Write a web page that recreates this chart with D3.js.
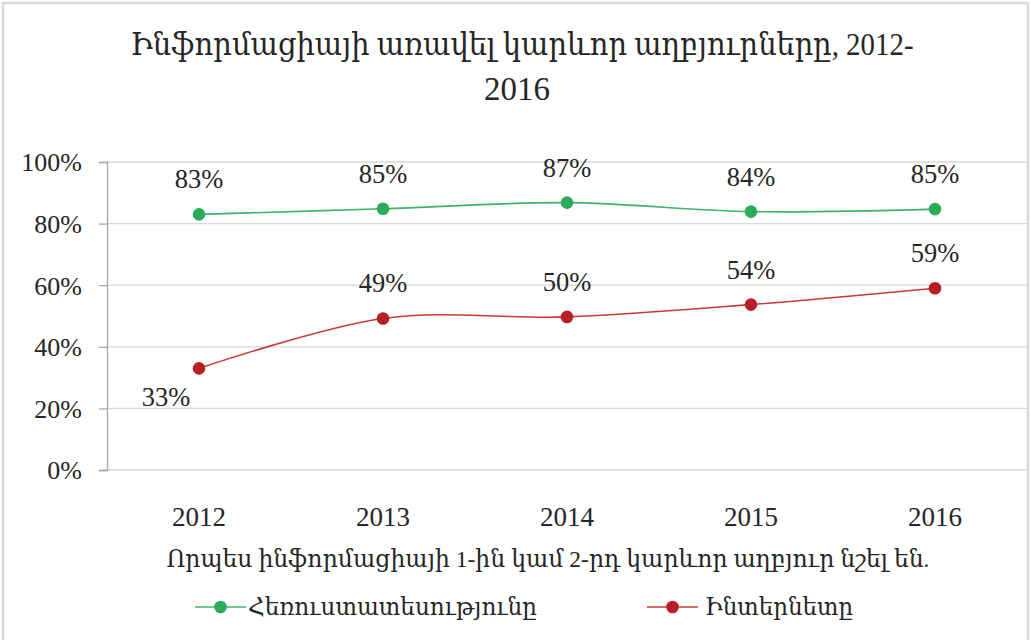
<!DOCTYPE html>
<html>
<head>
<meta charset="utf-8">
<script src="https://cdnjs.cloudflare.com/ajax/libs/d3/7.8.5/d3.min.js"></script>
<style>
    body { margin: 0; background: #fff; }
    text { font-family: "Liberation Serif", "DejaVu Serif", serif; fill: #262626; }
</style>
</head>
<body>
<div id="chart"></div>
<script>
const years= ["2012", "2013", "2014", "2015", "2016"];
const tvValues= [0.83, 0.848, 0.868, 0.839, 0.847];
const internetValues= [0.33, 0.492, 0.497, 0.537, 0.59];
const yTicks= [0, 0.2, 0.4, 0.6, 0.8, 1];
const seriesNames= ["Հեռուստատեսությունը", "Ինտերնետը"];

const titleLines= ["Ինֆորմացիայի առավել կարևոր աղբյուրները, 2012-", "2016"];
const axisTitle= "Որպես ինֆորմացիայի 1-ին կամ 2-րդ կարևոր աղբյուր նշել են.";

const colors= {
    tvLine: "#3fb56c",
    tvDot: "#2aab58",
    netLine: "#c93a3a",
    netDot: "#b71f24",
    grid: "#d9d9d9",
    axis: "#a6a6a6",
}

const width= 1031, height= 640;
const plot= { left: 107, right: 1027, top: 162, bottom: 470 };

const svg= d3.select("#chart")
    .append("svg")
    .attr("width", width)
    .attr("height", height)

// outer frame
svg.append("rect")
    .attr("x", 3)
    .attr("y", 3)
    .attr("width", 1025)
    .attr("height", 660)
    .attr("fill", "none")
    .attr("stroke", "#d9d9d9")
    .attr("stroke-width", 2.5)

const x= d3.scaleBand()
    .domain(years)
    .range([plot.left, plot.right])

const y= d3.scaleLinear()
    .domain([0, 1])
    .range([plot.bottom, plot.top])

// gridlines
svg.append("g")
    .selectAll("line")
    .data(yTicks)
    .join("line")
    .attr("x1", plot.left)
    .attr("x2", plot.right)
    .attr("y1", d => y(d))
    .attr("y2", d => y(d))
    .attr("stroke", colors.grid)
    .attr("stroke-width", 1.3)

// y axis
const yAxis= svg.append("g")
    .attr("transform", `translate(${plot.left},0)`)
    .call(d3.axisLeft(y).tickValues(yTicks).tickFormat(d3.format(".0%")).tickSizeOuter(0).tickSize(8).tickPadding(17))
yAxis.select(".domain").attr("stroke", colors.axis).attr("stroke-width", 1.3)
yAxis.selectAll(".tick line").attr("stroke", colors.axis).attr("stroke-width", 1.3)
yAxis.selectAll(".tick text")
    .attr("font-size", 26)
    .attr("font-family", null)
    .attr("dy", "0.34em")

// x axis labels
const xAxis= svg.append("g")
    .attr("transform", `translate(0,${plot.bottom})`)
    .call(d3.axisBottom(x).tickSize(0).tickPadding(0))
xAxis.select(".domain").remove()
xAxis.selectAll(".tick text")
    .attr("font-size", 27)
    .attr("font-family", null)
    .attr("dy", null)
    .attr("y", 56)

// series
const series= [
    { name: seriesNames[0], values: tvValues, line: colors.tvLine, dot: colors.tvDot },
    { name: seriesNames[1], values: internetValues, line: colors.netLine, dot: colors.netDot },
];

const line= d3.line()
    .x((d, i) => x(years[i]) + x.bandwidth() / 2)
    .y(d => y(d))
    .curve(d3.curveCardinal.tension(0))

series.forEach((s, si) => {
    const g= svg.append("g")

    g.append("path")
        .datum(s.values)
        .attr("d", line)
        .attr("fill", "none")
        .attr("stroke", s.line)
        .attr("stroke-width", 1.6)

    g.selectAll("circle")
        .data(s.values)
        .join("circle")
        .attr("cx", (d, i) => x(years[i]) + x.bandwidth() / 2)
        .attr("cy", d => y(d))
        .attr("r", 6.3)
        .attr("fill", s.dot)

    // the first internet label sits below-left of its point
    g.selectAll("text")
        .data(s.values)
        .join("text")
        .attr("text-anchor", "middle")
        .attr("font-size", 26.5)
        .attr("x", (d, i) => x(years[i]) + x.bandwidth() / 2 - (si === 1 && i === 0 ? 33 : 0))
        .attr("y", (d, i) => y(d) + (si === 1 && i === 0 ? 38 : -26))
        .text(d => d3.format(".0%")(d))
})

// title
svg.append("text")
    .attr("x", 522)
    .attr("y", 55)
    .attr("text-anchor", "middle")
    .attr("font-size", 32)
    .attr("textLength", 783)
    .attr("lengthAdjust", "spacingAndGlyphs")
    .text(titleLines[0])
svg.append("text")
    .attr("x", 517)
    .attr("y", 100)
    .attr("text-anchor", "middle")
    .attr("font-size", 33)
    .text(titleLines[1])

// category axis title
svg.append("text")
    .attr("x", 548)
    .attr("y", 567)
    .attr("text-anchor", "middle")
    .attr("font-size", 24)
    .attr("textLength", 763)
    .attr("lengthAdjust", "spacingAndGlyphs")
    .text(axisTitle)

// legend
const legendItems= [
    { lx: 195, tx: 248, tw: 289 },
    { lx: 647, tx: 705, tw: 148 },
];
legendItems.forEach((item, i) => {
    const s= series[i]
    svg.append("line")
        .attr("x1", item.lx)
        .attr("x2", item.lx + 51)
        .attr("y1", 607)
        .attr("y2", 607)
        .attr("stroke", s.line)
        .attr("stroke-width", 1.6)
    svg.append("circle")
        .attr("cx", item.lx + 25.5)
        .attr("cy", 607)
        .attr("r", 6.3)
        .attr("fill", s.dot)
    svg.append("text")
        .attr("x", item.tx)
        .attr("y", 615)
        .attr("font-size", 24)
        .attr("textLength", item.tw)
        .attr("lengthAdjust", "spacingAndGlyphs")
        .text(s.name)
})
</script>
</body>
</html>
